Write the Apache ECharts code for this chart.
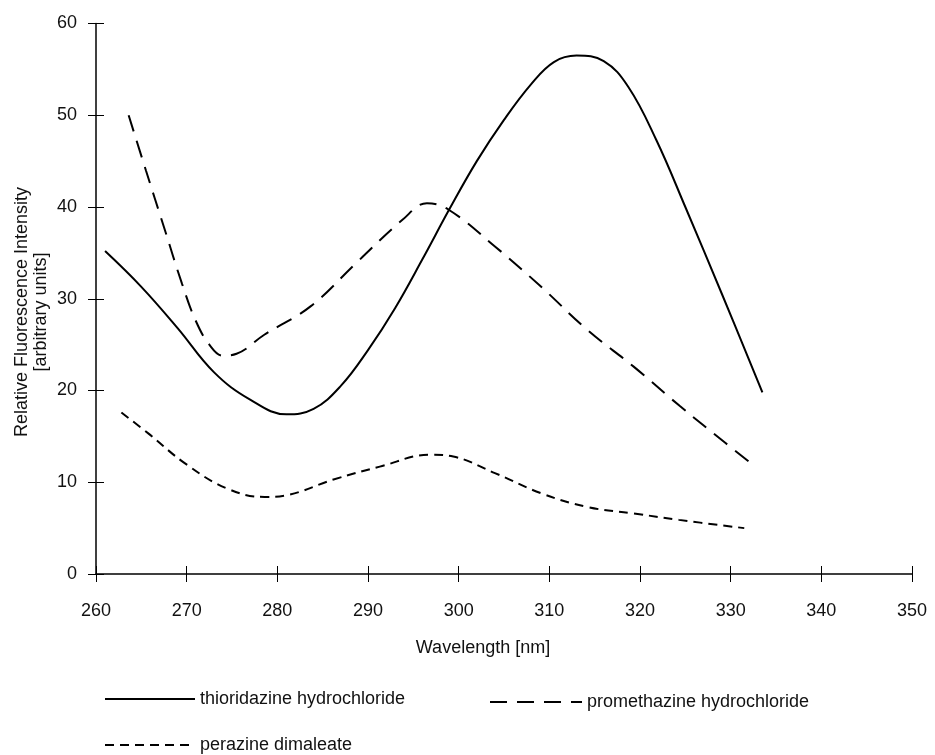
<!DOCTYPE html>
<html>
<head>
<meta charset="utf-8">
<script src="https://cdn.jsdelivr.net/npm/echarts@6/dist/echarts.min.js"></script>
<style>
  html, body { margin: 0; padding: 0; background: #fff; }
  #chart { width: 935px; height: 755px; }
</style>
</head>
<body>
<div id="chart"></div>
<script>
// ---- data (wavelength nm, relative intensity) ----
const xTicks = [260, 270, 280, 290, 300, 310, 320, 330, 340, 350];
const yTicks = [0, 10, 20, 30, 40, 50, 60];

const thioridazine = [
  [261.0, 35.2], [265.0, 31.3], [269.0, 26.8], [273.0, 22.0], [277.0, 19.0],
  [281.0, 17.4], [284.0, 18.0], [287.0, 20.5], [290.0, 24.4], [293.0, 29.0],
  [296.0, 34.3], [299.0, 39.8], [302.0, 45.0], [305.0, 49.5], [308.0, 53.4],
  [310.5, 55.8], [313.0, 56.5], [316.0, 55.9], [318.7, 53.1], [321.8, 47.3],
  [325.0, 40.0], [329.0, 30.6], [333.5, 19.8]
];
const promethazine = [
  [263.6, 50.0], [265.5, 44.0], [267.5, 37.8], [269.5, 31.6], [271.0, 27.6],
  [272.5, 25.0], [274.0, 23.8], [275.5, 24.0], [278.6, 26.1], [283.7, 29.2],
  [288.7, 33.9], [293.8, 38.6], [296.5, 40.4], [298.9, 39.7], [304.0, 35.7],
  [309.1, 31.3], [314.2, 26.6], [319.3, 22.6], [324.4, 18.3], [329.4, 14.3],
  [332.7, 11.7]
];
const perazine = [
  [262.8, 17.6], [265.8, 15.3], [269.9, 12.0], [274.5, 9.3], [278.6, 8.4],
  [281.1, 8.6], [286.2, 10.3], [291.3, 11.7], [296.9, 13.0], [299.4, 12.8],
  [304.0, 11.0], [309.1, 8.8], [314.2, 7.3], [319.3, 6.6], [324.3, 5.9],
  [331.5, 5.0]
];
const seriesNames = ['thioridazine hydrochloride', 'promethazine hydrochloride', 'perazine dimaleate'];
const xTitle = 'Wavelength [nm]';
const yTitle = 'Relative Fluorescence Intensity\n[arbitrary units]';

const FONT = '"Liberation Sans", Arial, Helvetica, sans-serif';
const chart = echarts.init(document.getElementById('chart'), null, { renderer: 'canvas' });

const xMin = xTicks[0], xMax = xTicks[xTicks.length - 1];
const yMin = yTicks[0], yMax = yTicks[yTicks.length - 1];

const baseX = {
  type: 'value', min: xMin, max: xMax, interval: 10, position: 'bottom', offset: 0,
  splitLine: { show: false }
};
const baseY = {
  type: 'value', min: yMin, max: yMax, interval: 10, position: 'left', offset: 0,
  splitLine: { show: false }
};

const legendCommon = {
  padding: 0, itemHeight: 14,
  itemStyle: { color: 'rgba(0,0,0,0)', borderColor: 'rgba(0,0,0,0)', borderWidth: 0, opacity: 0 },
  textStyle: { fontSize: 18, color: '#111', fontFamily: FONT }
};

const option = {
  backgroundColor: '#fff',
  animation: false,
  grid: { left: 96, top: 23.5, width: 816, height: 550.5 },
  xAxis: [
    Object.assign({}, baseX, {
      axisLine: { show: true, lineStyle: { color: '#000', width: 1.5 } },
      axisTick: { show: true, inside: false, length: 8, lineStyle: { color: '#000', width: 1 } },
      axisLabel: { show: true, margin: 28, color: '#111', fontSize: 18, fontFamily: FONT }
    }),
    Object.assign({}, baseX, {
      axisLine: { show: false },
      axisTick: { show: true, inside: true, length: 8, lineStyle: { color: '#000', width: 1 } },
      axisLabel: { show: false }
    })
  ],
  yAxis: [
    Object.assign({}, baseY, {
      axisLine: { show: true, lineStyle: { color: '#000', width: 1.5 } },
      axisTick: { show: true, inside: false, length: 8, lineStyle: { color: '#000', width: 1 } },
      axisLabel: { show: true, margin: 19, color: '#111', fontSize: 18, fontFamily: FONT }
    }),
    Object.assign({}, baseY, {
      axisLine: { show: false },
      axisTick: { show: true, inside: true, length: 8, lineStyle: { color: '#000', width: 1 } },
      axisLabel: { show: false }
    })
  ],
  legend: [
    Object.assign({}, legendCommon, { data: [seriesNames[0]], left: 104, top: 690, itemWidth: 90 }),
    Object.assign({}, legendCommon, { data: [seriesNames[1]], left: 489, top: 693, itemWidth: 92 }),
    Object.assign({}, legendCommon, { data: [seriesNames[2]], left: 104, top: 736, itemWidth: 90 })
  ],
  graphic: [
    {
      type: 'text', x: 483, y: 648,
      style: { text: xTitle, font: '18px ' + FONT, fill: '#111', align: 'center', verticalAlign: 'middle' }
    },
    {
      type: 'text', x: 32, y: 312, rotation: Math.PI / 2,
      style: { text: yTitle, font: '18px ' + FONT, fill: '#111', align: 'center', verticalAlign: 'middle', lineHeight: 19 }
    }
  ],
  series: [
    {
      name: seriesNames[0], type: 'line', data: thioridazine, smooth: 0.4,
      symbol: 'none', showSymbol: false, xAxisIndex: 0, yAxisIndex: 0,
      itemStyle: { color: '#000' },
      lineStyle: { color: '#000', width: 2, type: 'solid' }
    },
    {
      name: seriesNames[1], type: 'line', data: promethazine, smooth: 0.4,
      symbol: 'none', showSymbol: false, xAxisIndex: 0, yAxisIndex: 0,
      itemStyle: { color: '#000' },
      lineStyle: { color: '#000', width: 2, type: [17, 10] }
    },
    {
      name: seriesNames[2], type: 'line', data: perazine, smooth: 0.4,
      symbol: 'none', showSymbol: false, xAxisIndex: 0, yAxisIndex: 0,
      itemStyle: { color: '#000' },
      lineStyle: { color: '#000', width: 2, type: [9, 6] }
    }
  ]
};
chart.setOption(option);
</script>
</body>
</html>
